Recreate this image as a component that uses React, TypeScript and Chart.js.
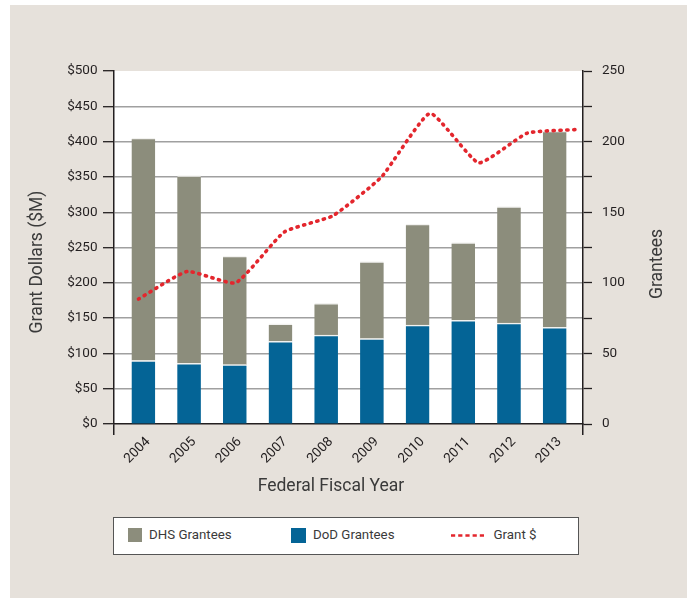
import React, { useEffect, useRef } from "react";
import { Chart, registerables } from "chart.js";

Chart.register(...registerables);

// ---- data ----
const YEARS = ["2004", "2005", "2006", "2007", "2008", "2009", "2010", "2011", "2012", "2013"];
const DOD_GRANTEES = [45, 43, 42, 58.5, 63, 60.5, 70, 73.5, 71.5, 68.5];
const DHS_GRANTEES = [157.5, 133, 77, 12.5, 22.5, 54.5, 71.5, 55, 82.5, 139];
const GRANT_DOLLARS = [177, 216, 200, 272, 295, 350, 440, 370, 412, 417];

const DOLLAR_MAX = 500;
const DOLLAR_STEP = 50;
const GRANTEE_MAX = 250;
const GRANTEE_STEP = 25;
const GRANTEE_LABEL_STEP = 50;

const X_TITLE = "Federal Fiscal Year";
const Y_LEFT_TITLE = "Grant Dollars ($M)";
const Y_RIGHT_TITLE = "Grantees";
const LEGEND_LABELS = ["DHS Grantees", "DoD Grantees", "Grant $"];

// ---- styles ----
const FONT = "Roboto, 'Liberation Sans', sans-serif";
const BEIGE = "#e6e1db";
const GRAY = "#8c8d7c";
const BLUE = "#046496";
const RED = "#e3262d";
const AXIS = "#231f20";
const GRID = "#a0a0a0";
const TEXT = "#3a3a3a";

const W = 677;
const H = 593;

const decorPlugin = {
  id: "decor",
  beforeDraw(chart: any) {
    const { ctx, chartArea: a } = chart;
    ctx.save();
    ctx.fillStyle = "#ffffff";
    ctx.fillRect(a.left, a.top, a.right - a.left, a.bottom - a.top);
    ctx.restore();
  },
  afterDraw(chart: any) {
    const { ctx } = chart;
    ctx.save();
    ctx.font = `17.5px ${FONT}`;
    ctx.fillStyle = TEXT;
    ctx.textAlign = "center";
    ctx.textBaseline = "middle";
    ctx.fillText(X_TITLE, 321, 482);
    ctx.save();
    ctx.translate(28, 257);
    ctx.rotate(-Math.PI / 2);
    ctx.fillText(Y_LEFT_TITLE, 0, 0);
    ctx.restore();
    ctx.save();
    ctx.translate(648, 259);
    ctx.rotate(-Math.PI / 2);
    ctx.fillText(Y_RIGHT_TITLE, 0, 0);
    ctx.restore();
    ctx.restore();
  },
};

export default function App() {
  const ref = useRef<HTMLCanvasElement>(null);

  useEffect(() => {
    if (!ref.current) return;
    const LABEL_SHIFT = 0.105;
    const X_MIN = -0.643;
    const X_MAX = 9.62;
    const barStyle = {
      type: "bar",
      xAxisID: "x",
      yAxisID: "y2",
      stack: "grantees",
      grouped: false,
      maxBarThickness: 28,
      barPercentage: 1,
      categoryPercentage: 1,
      borderColor: "#f2f2f0",
      borderWidth: { top: 1.5, left: 0, right: 0, bottom: 0 },
      borderSkipped: false,
      order: 1,
    };
    const chart = new Chart(ref.current, {
      type: "bar",
      data: {
        datasets: [
          {
            type: "line",
            label: LEGEND_LABELS[2],
            data: GRANT_DOLLARS.map((v, i) => ({ x: i, y: v })),
            xAxisID: "x2",
            yAxisID: "y",
            borderColor: RED,
            borderWidth: 3.6,
            borderDash: [1.2, 5.6],
            borderCapStyle: "round",
            pointRadius: 0,
            tension: 0.15,
            fill: false,
            order: 0,
          } as any,
          {
            ...barStyle,
            label: LEGEND_LABELS[1],
            data: DOD_GRANTEES.map((v, i) => ({ x: i, y: v })),
            backgroundColor: BLUE,
          } as any,
          {
            ...barStyle,
            label: LEGEND_LABELS[0],
            data: DHS_GRANTEES.map((v, i) => ({ x: i, y: v })),
            backgroundColor: GRAY,
          } as any,
        ],
      },
      options: {
        responsive: false,
        animation: false,
        layout: { padding: { top: 66, bottom: 114, left: 0, right: 0 }, autoPadding: false } as any,
        plugins: {
          legend: { display: false },
          tooltip: { enabled: false },
        },
        scales: {
          x: {
            type: "linear",
            position: "bottom",
            min: X_MIN,
            max: X_MAX,
            stacked: true,
            offset: false,
            afterBuildTicks: (axis: any) => {
              axis.ticks = [
                { value: X_MIN },
                ...YEARS.map((_, i) => ({ value: i + LABEL_SHIFT })),
                { value: X_MAX },
              ];
            },
            afterFit: (s: any) => {
              s.height = 60;
              s.paddingLeft = 0;
              s.paddingRight = 0;
            },
            ticks: {
              autoSkip: false,
              minRotation: 45,
              maxRotation: 45,
              padding: -1,
              color: AXIS,
              font: { family: FONT, size: 13.5 },
              callback: (_v: any, index: number) =>
                index >= 1 && index <= YEARS.length ? YEARS[index - 1] : "",
            },
            grid: {
              offset: false,
              drawOnChartArea: false,
              drawTicks: true,
              tickLength: 11,
              lineWidth: 1.5,
              tickColor: (ctx: any) =>
                ctx.tick && (ctx.tick.value === X_MIN || ctx.tick.value === X_MAX)
                  ? AXIS
                  : "rgba(0,0,0,0)",
            },
            border: { display: true, color: AXIS, width: 1.5 },
          },
          x2: {
            type: "linear",
            display: false,
            offset: false,
            grid: { offset: false },
            min: -0.504,
            max: 9.146,
          },
          y: {
            type: "linear",
            position: "left",
            min: 0,
            max: DOLLAR_MAX,
            afterFit: (s: any) => {
              s.width = 104;
              s.paddingTop = 0;
              s.paddingBottom = 0;
            },
            ticks: {
              stepSize: DOLLAR_STEP,
              padding: 5.5,
              color: AXIS,
              font: { family: FONT, size: 13.5 },
              callback: (v: any) => "$" + v,
            },
            grid: {
              drawTicks: true,
              tickLength: 11,
              lineWidth: 1.4,
              tickWidth: 1.3,
              color: (ctx: any) =>
                ctx.tick && (ctx.tick.value === 0 || ctx.tick.value === DOLLAR_MAX)
                  ? "rgba(0,0,0,0)"
                  : GRID,
              tickColor: AXIS,
            },
            border: { display: true, color: AXIS, width: 1.5 },
          },
          y2: {
            type: "linear",
            position: "right",
            min: 0,
            max: GRANTEE_MAX,
            stacked: true,
            afterFit: (s: any) => {
              s.width = 104;
              s.paddingTop = 0;
              s.paddingBottom = 0;
            },
            ticks: {
              stepSize: GRANTEE_STEP,
              padding: 10,
              color: AXIS,
              font: { family: FONT, size: 13.5 },
              callback: (v: any) => (v % GRANTEE_LABEL_STEP === 0 ? String(v) : ""),
            },
            grid: {
              drawOnChartArea: false,
              drawTicks: true,
              tickLength: 9,
              tickWidth: 1.3,
              tickColor: AXIS,
            },
            border: { display: true, color: AXIS, width: 1.5 },
          },
        },
      } as any,
      plugins: [decorPlugin],
    });
    return () => chart.destroy();
  }, []);

  const legendText: React.CSSProperties = {
    position: "absolute",
    top: 7,
    lineHeight: "20px",
    fontFamily: FONT,
    fontSize: 13.3,
    color: TEXT,
    whiteSpace: "nowrap",
  };

  return (
    <div
      style={{
        position: "fixed",
        left: 10,
        top: 5,
        width: W,
        height: H,
        background: BEIGE,
      }}
    >
      <canvas ref={ref} width={W} height={H} style={{ display: "block", width: W, height: H }} />
      <div
        style={{
          position: "absolute",
          left: 103,
          top: 512,
          width: 466,
          height: 38,
          boxSizing: "border-box",
          background: "#ffffff",
          border: "1.5px solid #555",
        }}
      >
        <div style={{ position: "absolute", left: 14, top: 10, width: 14, height: 14, background: GRAY }} />
        <div style={{ ...legendText, left: 35 }}>{LEGEND_LABELS[0]}</div>
        <div style={{ position: "absolute", left: 176.5, top: 9.5, width: 15, height: 15, background: BLUE }} />
        <div style={{ ...legendText, left: 199 }}>{LEGEND_LABELS[1]}</div>
        <svg style={{ position: "absolute", left: 337, top: 15 }} width={36} height={5}>
          <line x1={0} y1={2.5} x2={36} y2={2.5} stroke={RED} strokeWidth={2.6} strokeDasharray="4.2 3" />
        </svg>
        <div style={{ ...legendText, left: 379.5 }}>{LEGEND_LABELS[2]}</div>
      </div>
    </div>
  );
}
